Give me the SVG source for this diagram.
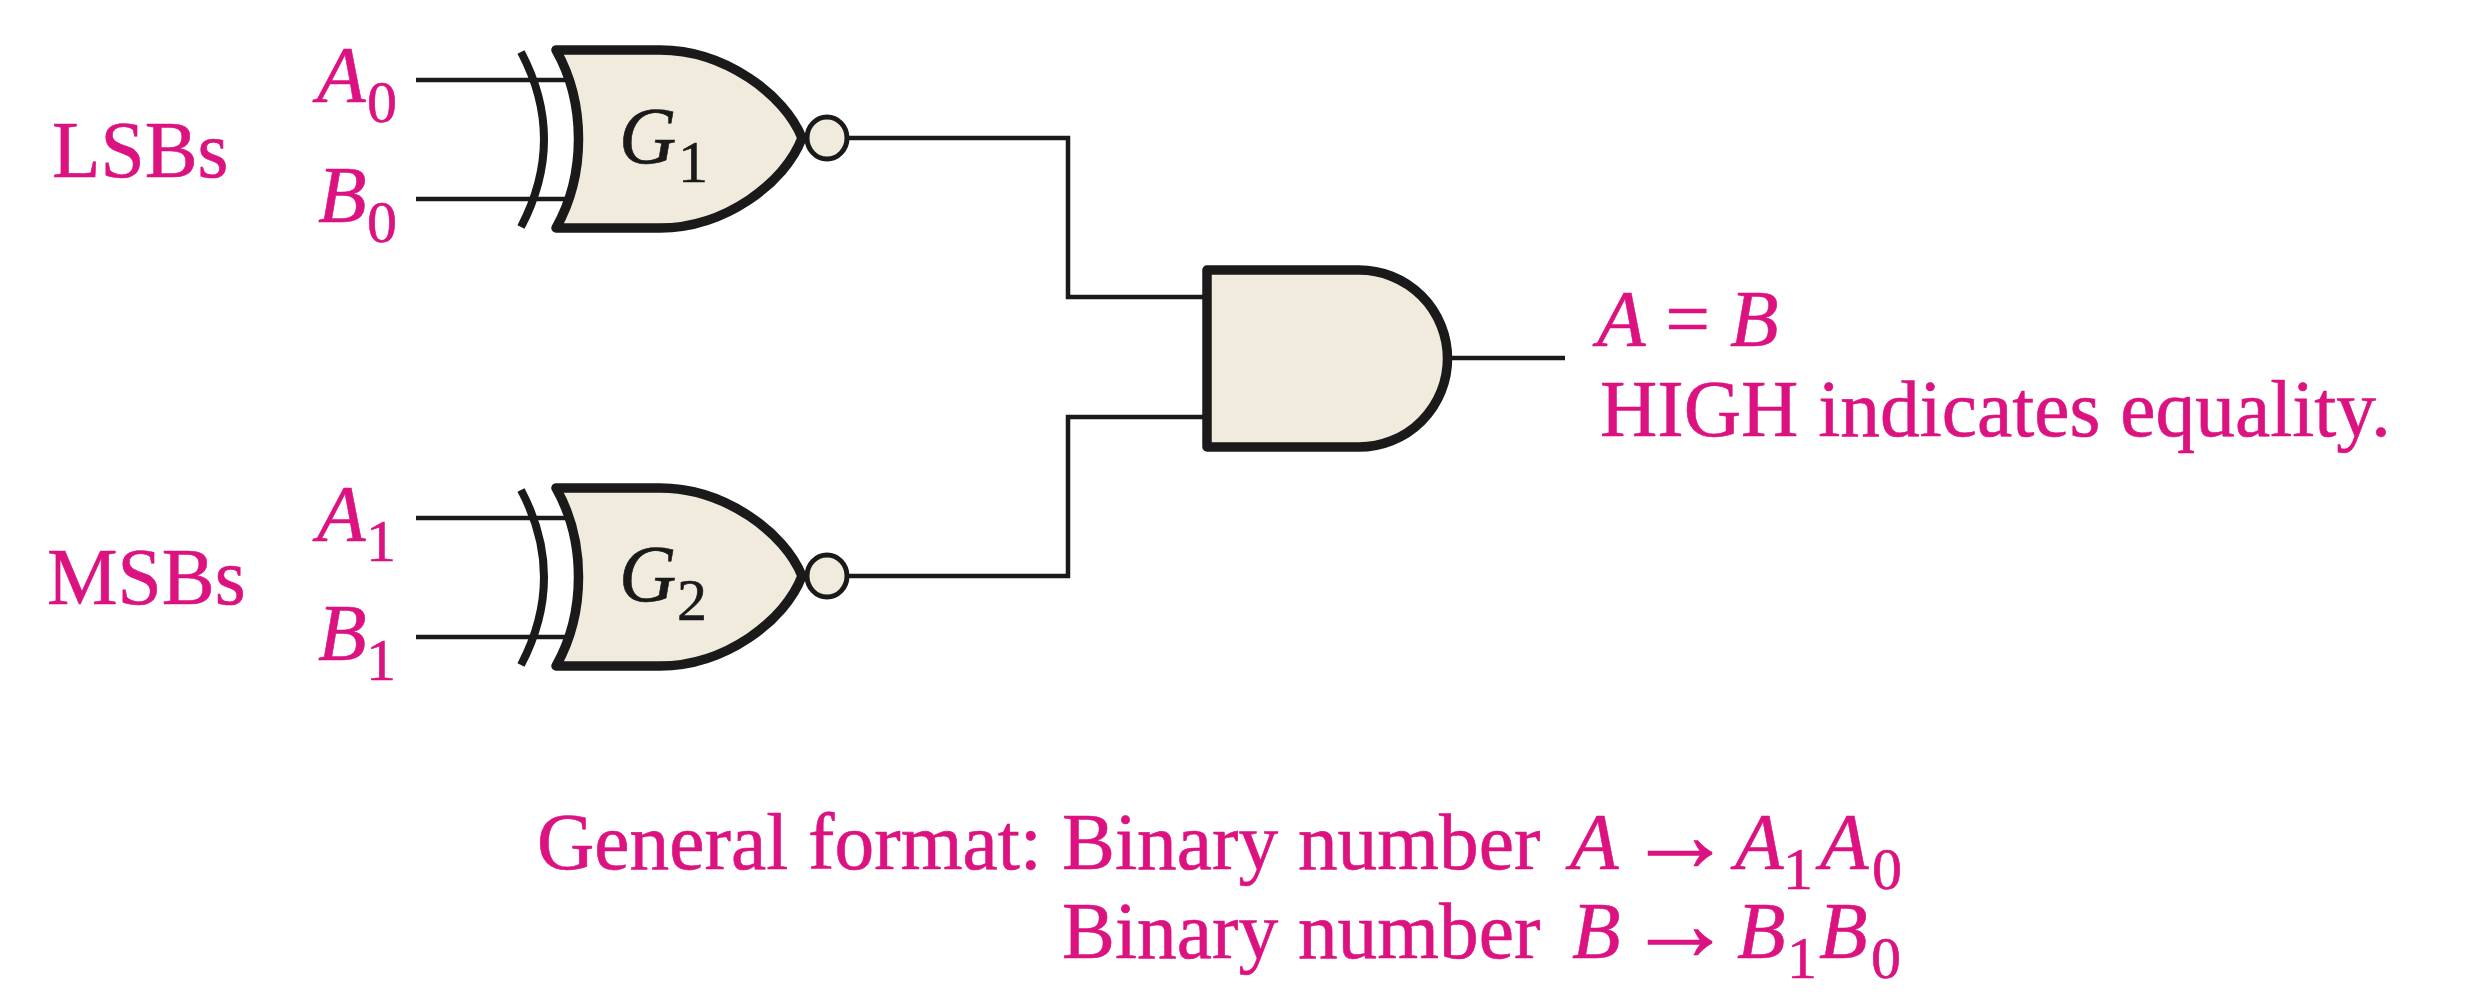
<svg xmlns="http://www.w3.org/2000/svg" width="2480" height="999" viewBox="0 0 2480 999">
<style>
text{font-family:"Liberation Serif","Times New Roman",serif;font-size:79.400px;fill:#db1280;stroke:#db1280;stroke-width:.6}
.i{font-style:italic}
.s{font-size:60px}
.k{fill:#1a1a1a;stroke:#1a1a1a}
.arr{font-size:108px}
.wire{fill:none;stroke:#1a1a1a;stroke-width:4.500}
.body{fill:#f0ebdd;stroke:#1a1a1a;stroke-width:9.500;stroke-linejoin:round}
.back{fill:none;stroke:#1a1a1a;stroke-width:8}
.bub{fill:#f0ebdd;stroke:#1a1a1a;stroke-width:5}
</style>
<defs>
<g id="xnor">
<path class="back" d="M521 52Q567 139 521 227"/>
<path class="body" d="M556 50L660 50C725 50 785 95 802 138C785 183 725 228 660 228L556 228C586 175 586 103 556 50Z"/>
<ellipse class="bub" cx="827" cy="138" rx="20" ry="21"/>
</g>
</defs>
<rect width="2480" height="999" fill="#fff"/>
<g id="connectors">
<path class="wire" d="M416 80H566M416 199H566"/>
<path class="wire" d="M416 518H566M416 637H566"/>
<path class="wire" d="M848 138H1068V297H1205"/>
<path class="wire" d="M848 576H1068V417H1205"/>
<path class="wire" d="M1450 358H1565"/>
</g>
<g id="G1"><use href="#xnor"/>
<text class="i k" x="619" y="163">G</text><text class="s k" x="678" y="182">1</text></g>
<g id="G2"><use href="#xnor" y="438"/>
<text class="i k" x="619" y="601">G</text><text class="s k" x="677" y="620">2</text></g>
<g id="AND"><path class="body" d="M1207 270H1359A88.500 88.500 0 0 1 1359 447H1207Z"/></g>
<g id="labels">
<text x="52" y="177">LSBs</text>
<text x="47" y="604">MSBs</text>
<text class="i" x="317" y="102">A</text><text class="s" x="367" y="122">0</text>
<text class="i" x="318" y="222">B</text><text class="s" x="367" y="242">0</text>
<text class="i" x="317" y="541">A</text><text class="s" x="366" y="561">1</text>
<text class="i" x="318" y="660">B</text><text class="s" x="366" y="680">1</text>
<text x="1597" y="346"><tspan class="i">A</tspan> = <tspan class="i">B</tspan></text>
<text x="1600" y="436">HIGH indicates equality.</text>
<text x="537" y="869">General format:</text>
<text x="1062" y="869">Binary number</text>
<text class="i" x="1570" y="869">A</text><text class="arr" x="1626" y="871">→</text>
<text class="i" x="1735" y="869">A</text><text class="s" x="1783" y="889">1</text>
<text class="i" x="1820" y="869">A</text><text class="s" x="1872" y="889">0</text>
<text x="1062" y="958">Binary number</text>
<text class="i" x="1572" y="958">B</text><text class="arr" x="1626" y="960">→</text>
<text class="i" x="1737" y="958">B</text><text class="s" x="1787" y="978">1</text>
<text class="i" x="1819" y="958">B</text><text class="s" x="1871" y="978">0</text>
</g>
</svg>
